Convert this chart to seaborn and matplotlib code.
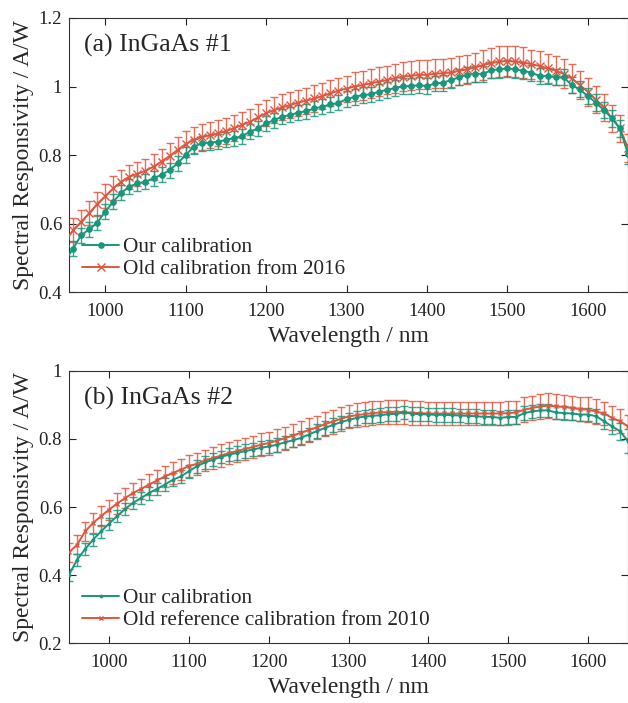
import numpy as np
import pandas as pd
import matplotlib
matplotlib.use('Agg')
import matplotlib.pyplot as plt
from matplotlib.ticker import FormatStrFormatter
import seaborn as sns

wavelength = list(range(950, 1651, 10))

# panel (a) InGaAs #1
ours_a = [0.490, 0.527, 0.566, 0.583, 0.602, 0.635, 0.664, 0.690, 0.708, 0.717,
          0.722, 0.732, 0.742, 0.756, 0.776, 0.800, 0.824, 0.834, 0.836, 0.839,
          0.844, 0.849, 0.855, 0.868, 0.878, 0.892, 0.902, 0.912, 0.917, 0.924,
          0.928, 0.936, 0.941, 0.948, 0.952, 0.963, 0.970, 0.975, 0.977, 0.985,
          0.990, 0.995, 1.001, 1.001, 1.004, 1.001, 1.009, 1.011, 1.019, 1.027,
          1.034, 1.037, 1.037, 1.048, 1.050, 1.053, 1.050, 1.046, 1.040, 1.031,
          1.031, 1.027, 1.027, 1.004, 0.992, 0.972, 0.953, 0.931, 0.907, 0.878,
          0.803]
old_a = [0.545, 0.581, 0.605, 0.630, 0.657, 0.680, 0.703, 0.722, 0.737, 0.745,
         0.754, 0.766, 0.781, 0.797, 0.815, 0.832, 0.844, 0.852, 0.858, 0.863,
         0.870, 0.878, 0.888, 0.897, 0.910, 0.922, 0.931, 0.939, 0.946, 0.953,
         0.959, 0.965, 0.972, 0.980, 0.988, 0.994, 1.000, 1.004, 1.009, 1.014,
         1.019, 1.024, 1.029, 1.031, 1.034, 1.034, 1.037, 1.039, 1.041, 1.046,
         1.050, 1.056, 1.063, 1.068, 1.073, 1.074, 1.073, 1.070, 1.065, 1.060,
         1.053, 1.046, 1.037, 1.024, 1.004, 0.985, 0.962, 0.939, 0.907, 0.878,
         0.820]
ours_a_err = [0.022, 0.022, 0.022, 0.022, 0.022, 0.022, 0.022, 0.022, 0.022, 0.022,
              0.022, 0.022, 0.022, 0.022, 0.022, 0.022, 0.022, 0.022, 0.022, 0.022,
              0.022, 0.022, 0.022, 0.022, 0.022, 0.022, 0.022, 0.022, 0.022, 0.022,
              0.022, 0.022, 0.022, 0.022, 0.022, 0.023, 0.023, 0.023, 0.023, 0.023,
              0.023, 0.023, 0.023, 0.023, 0.023, 0.023, 0.023, 0.023, 0.024, 0.024,
              0.024, 0.024, 0.024, 0.024, 0.024, 0.024, 0.024, 0.024, 0.024, 0.024,
              0.024, 0.024, 0.024, 0.024, 0.024, 0.024, 0.024, 0.024, 0.025, 0.025,
              0.030]
old_a_err = [0.035, 0.035, 0.035, 0.035, 0.035, 0.035, 0.035, 0.035, 0.035, 0.035,
             0.035, 0.038, 0.038, 0.038, 0.038, 0.038, 0.038, 0.038, 0.038, 0.038,
             0.038, 0.038, 0.038, 0.038, 0.038, 0.038, 0.038, 0.038, 0.038, 0.038,
             0.038, 0.038, 0.038, 0.038, 0.038, 0.038, 0.042, 0.042, 0.042, 0.042,
             0.042, 0.042, 0.042, 0.042, 0.042, 0.042, 0.042, 0.042, 0.042, 0.042,
             0.043, 0.043, 0.043, 0.044, 0.044, 0.044, 0.044, 0.044, 0.043, 0.043,
             0.042, 0.042, 0.042, 0.042, 0.041, 0.041, 0.040, 0.040, 0.040, 0.040,
             0.040]

# panel (b) InGaAs #2
ours_b = [0.401, 0.445, 0.476, 0.504, 0.528, 0.551, 0.573, 0.594, 0.612, 0.626,
          0.641, 0.653, 0.666, 0.680, 0.690, 0.705, 0.720, 0.731, 0.739, 0.747,
          0.754, 0.759, 0.764, 0.769, 0.774, 0.778, 0.783, 0.790, 0.796, 0.803,
          0.813, 0.823, 0.832, 0.841, 0.849, 0.856, 0.862, 0.866, 0.868, 0.870,
          0.873, 0.874, 0.878, 0.874, 0.873, 0.872, 0.871, 0.871, 0.870, 0.869,
          0.868, 0.867, 0.865, 0.865, 0.862, 0.865, 0.865, 0.876, 0.881, 0.884,
          0.884, 0.878, 0.876, 0.875, 0.872, 0.872, 0.867, 0.852, 0.837, 0.823,
          0.793]
old_b = [0.467, 0.489, 0.528, 0.553, 0.573, 0.592, 0.610, 0.626, 0.641, 0.653,
         0.666, 0.678, 0.690, 0.700, 0.710, 0.720, 0.727, 0.737, 0.744, 0.751,
         0.759, 0.764, 0.771, 0.776, 0.783, 0.788, 0.795, 0.802, 0.810, 0.818,
         0.826, 0.834, 0.843, 0.851, 0.859, 0.866, 0.870, 0.873, 0.876, 0.878,
         0.879, 0.880, 0.879, 0.877, 0.876, 0.875, 0.875, 0.875, 0.875, 0.875,
         0.875, 0.875, 0.875, 0.875, 0.875, 0.876, 0.878, 0.886, 0.891, 0.896,
         0.898, 0.896, 0.894, 0.891, 0.888, 0.886, 0.881, 0.875, 0.862, 0.852,
         0.837]
ours_b_err = [0.018, 0.018, 0.018, 0.018, 0.018, 0.018, 0.018, 0.018, 0.018, 0.018,
              0.019, 0.019, 0.019, 0.019, 0.019, 0.019, 0.019, 0.019, 0.019, 0.019,
              0.020, 0.020, 0.020, 0.020, 0.020, 0.020, 0.020, 0.020, 0.020, 0.020,
              0.020, 0.020, 0.020, 0.020, 0.020, 0.020, 0.020, 0.020, 0.020, 0.020,
              0.020, 0.020, 0.020, 0.020, 0.020, 0.020, 0.020, 0.020, 0.020, 0.020,
              0.020, 0.020, 0.020, 0.020, 0.020, 0.020, 0.020, 0.020, 0.020, 0.020,
              0.020, 0.020, 0.020, 0.020, 0.020, 0.020, 0.020, 0.022, 0.022, 0.025,
              0.035]
old_b_err = [0.028, 0.028, 0.028, 0.029, 0.029, 0.029, 0.030, 0.030, 0.030, 0.030,
             0.031, 0.031, 0.031, 0.031, 0.032, 0.032, 0.032, 0.032, 0.032, 0.033,
             0.033, 0.033, 0.033, 0.033, 0.034, 0.034, 0.034, 0.034, 0.034, 0.034,
             0.035, 0.035, 0.035, 0.035, 0.035, 0.035, 0.035, 0.035, 0.035, 0.035,
             0.035, 0.035, 0.035, 0.035, 0.035, 0.035, 0.035, 0.035, 0.035, 0.035,
             0.035, 0.035, 0.035, 0.035, 0.035, 0.035, 0.035, 0.036, 0.036, 0.036,
             0.036, 0.036, 0.036, 0.036, 0.036, 0.036, 0.036, 0.035, 0.035, 0.035,
             0.035]

green = '#17977b'
red = '#e0563e'

sns.set_style('ticks')
plt.rcParams['font.family'] = ['Liberation Serif', 'DejaVu Serif']

fig = plt.figure(figsize=(6.28, 7.03), dpi=100)
ax_a = fig.add_axes([0.110, 0.5846, 0.890, 0.3898])
ax_b = fig.add_axes([0.110, 0.0853, 0.890, 0.3870])

panels = [
    (ax_a, ours_a, ours_a_err, old_a, old_a_err, 'Old calibration from 2016',
     '(a) InGaAs #1', (955, 1650), (0.4, 1.2), 4, 6),
    (ax_b, ours_b, ours_b_err, old_b, old_b_err, 'Old reference calibration from 2010',
     '(b) InGaAs #2', (950, 1650), (0.2, 1.0), 2, 3),
]

for ax, ours, ours_err, old, old_err, old_label, title, xlim, ylim, ms1, ms2 in panels:
    df = pd.DataFrame({'wl': wavelength, 'ours': ours, 'old': old})
    ax.errorbar(df['wl'], df['old'], yerr=old_err, fmt='none', ecolor=red,
                elinewidth=1.0, capsize=3, capthick=1.0, alpha=0.85)
    ax.errorbar(df['wl'], df['ours'], yerr=ours_err, fmt='none', ecolor=green,
                elinewidth=1.0, capsize=3, capthick=1.0, alpha=0.85)
    sns.lineplot(data=df, x='wl', y='old', ax=ax, color=red, marker='x',
                 markersize=ms2, markeredgecolor=red, markeredgewidth=1.0,
                 linewidth=1.4, label=old_label, zorder=3)
    sns.lineplot(data=df, x='wl', y='ours', ax=ax, color=green, marker='o',
                 markersize=ms1, markeredgecolor=green, linewidth=1.4,
                 label='Our calibration', zorder=4)

    ax.set_xlim(*xlim)
    ax.set_ylim(*ylim)
    ax.set_xticks([1000, 1100, 1200, 1300, 1400, 1500, 1600])
    ax.set_yticks(np.arange(ylim[0], ylim[1] + 0.01, 0.2))
    ax.yaxis.set_major_formatter(FormatStrFormatter('%g'))
    ax.tick_params(direction='in', length=5, width=0.8, top=True, right=True,
                   labelsize=13.5, colors='#222222')
    ax.tick_params(axis='x', pad=8)
    ax.tick_params(axis='y', pad=5)
    for s in ax.spines.values():
        s.set_linewidth(0.8)
        s.set_color('#333333')
    ax.set_xlabel('Wavelength / nm', fontsize=17, labelpad=4)
    ax.set_ylabel('Spectral Responsivity / A/W', fontsize=17, labelpad=3)
    ax.text(0.026, 0.90, title, transform=ax.transAxes, fontsize=18.5,
            ha='left', va='center')

    handles, labels = ax.get_legend_handles_labels()
    order = [labels.index('Our calibration'), labels.index(old_label)]
    ax.legend([handles[i] for i in order], [labels[i] for i in order],
              loc='lower left', frameon=False, fontsize=15.3,
              handlelength=1.75, handletextpad=0.2, labelspacing=0.1,
              borderaxespad=0.0, bbox_to_anchor=(0.008, 0.015))

fig.savefig('out.png', dpi=100)
